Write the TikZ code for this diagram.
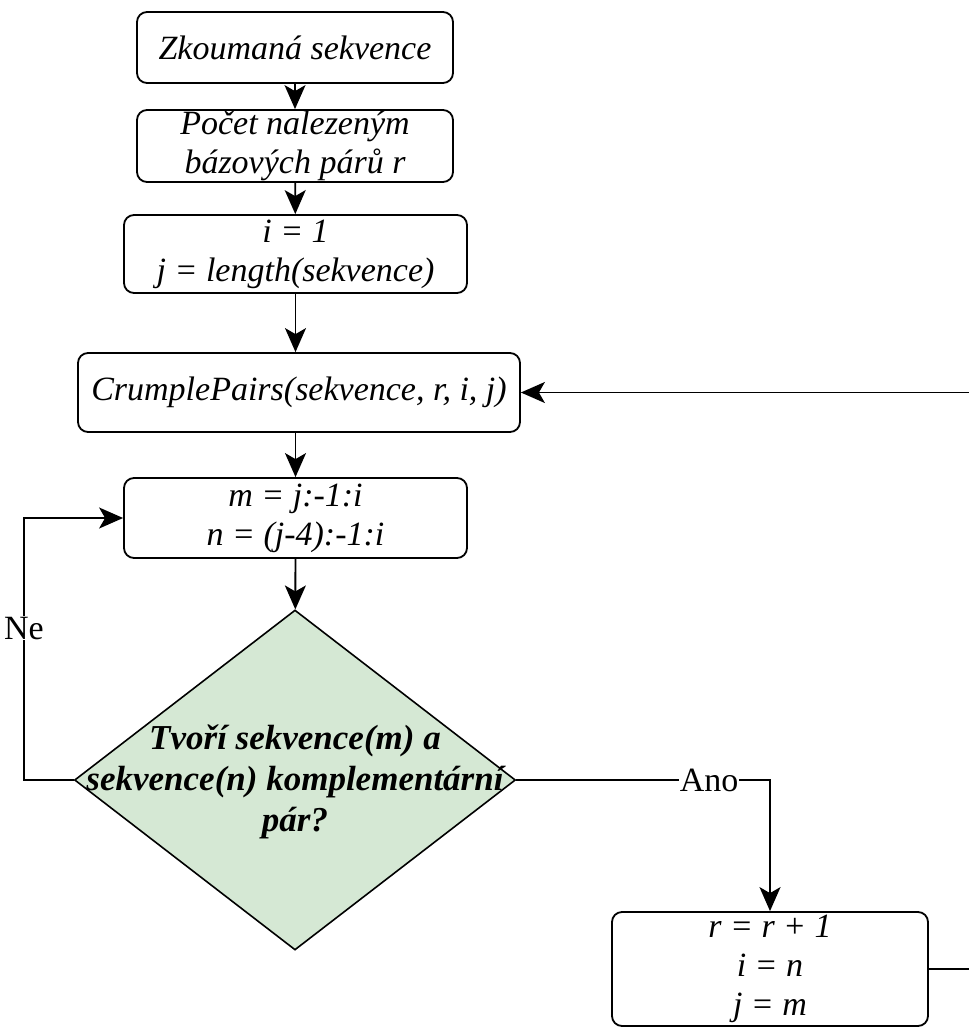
\documentclass[tikz,border=0pt]{standalone}
\usepackage{fontspec}
\setmainfont{Liberation Serif}
\usetikzlibrary{shapes.geometric,arrows.meta}

\definecolor{decgreen}{HTML}{D5E8D4}
\newcommand\flowfont{\fontsize{34}{39}\selectfont}
\newcommand\decfont{\fontsize{35}{41}\selectfont}

\tikzset{
  proc/.style={draw, rounded corners=10pt, line width=1.8pt, align=center,
    font=\flowfont\itshape, inner sep=0pt},
  decision/.style={draw, diamond, fill=decgreen, line width=1.6pt, inner sep=0pt},
  dectext/.style={align=center, font=\decfont\bfseries\itshape, inner sep=0pt},
  lbl/.style={fill=white, font=\flowfont, inner sep=1pt},
  flow/.style={line width=1.8pt, -{Stealth[length=24pt,width=21pt,inset=6pt]}},
  wire/.style={line width=1.8pt}
}

\begin{document}
\begin{tikzpicture}[x=1pt,y=-1pt]
  \useasboundingbox (0,0) rectangle (969,1028);

  % process boxes
  \node[proc, minimum width=316pt, minimum height=71pt] (seq) at (295,47.5) {Zkoumaná sekvence};
  \node[proc, minimum width=316pt, minimum height=72pt] (pairs) at (295,146) {Počet nalezeným\\bázových párů r};
  \node[proc, minimum width=343pt, minimum height=78pt] (init) at (295.5,254) {i = 1\\j = length(sekvence)};
  \node[proc, minimum width=442pt, minimum height=79pt] (crumple) at (299,392.5) {CrumplePairs(sekvence, r, i, j)};
  \node[proc, minimum width=343pt, minimum height=80pt] (loop) at (295.5,518) {m = j:-1:i\\n = (j-4):-1:i};

  % decision
  \node[decision, minimum width=441pt, minimum height=340pt] (test) at (295,780) {};
  \node[dectext] (testtxt) at (295,782) {Tvoří sekvence(m) a\\sekvence(n) komplementární\\pár?};

  \node[proc, minimum width=316pt, minimum height=114pt] (upd) at (770,969) {r = r + 1\\i = n\\j = m};

  % free ends at the right border
  \coordinate (backin) at (969,392.5);
  \coordinate (backout) at (969,969);
  \coordinate (neturn) at (24,780);

  % connectors
  \draw[flow] (seq) -- (pairs);
  \draw[flow] (pairs) -- (init);
  \draw[flow] (init.south) -- (init.south |- crumple.north);
  \draw[flow] (loop.north |- crumple.south) -- (loop.north);
  \draw[flow] (loop) -- (test);
  \draw[flow] (backin) -- (crumple.east);
  \draw[flow] (test.west) -- (neturn) |- node[lbl, pos=0.29] (ne) {Ne} (loop.west);
  \draw[flow] (test.east) -| node[lbl, pos=0.38] (ano) {Ano} (upd.north);
  \draw[wire] (upd.east) -- (backout);
\end{tikzpicture}
\end{document}
